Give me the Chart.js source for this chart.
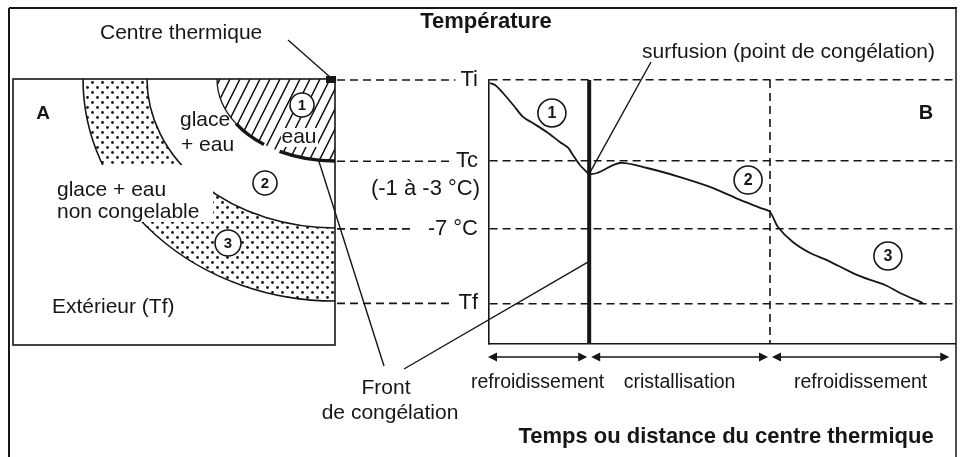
<!DOCTYPE html>
<html>
<head>
<meta charset="utf-8">
<script src="https://cdn.jsdelivr.net/npm/chart.js@4.4.0/dist/chart.umd.min.js"></script>
<style>
  html, body { margin: 0; background: #fff; }
  canvas { display: block; }
</style>
</head>
<body>
<canvas id="c" width="960" height="457"></canvas>
<script>
// courbe de congélation (temps en unités arbitraires 0..100, température en °C)
const temps = [0.2, 1.3, 3.0, 5.2, 7.3, 9.4, 12.4, 15.2, 17.0, 18.0, 19.5, 21.0, 21.5, 23.2, 28.1, 33.9, 41.0, 48.1, 53.9, 58.2, 60.3, 62.0, 65.2, 68.9, 72.5, 78.1, 81.8, 85.0, 88.2, 93.1];
const temperatures = [3.78, 3.63, 3.04, 2.15, 1.27, 0.82, 0.16, -0.58, -1.02, -1.54, -2.28, -2.80, -2.94, -2.87, -2.13, -2.50, -3.17, -3.98, -4.86, -5.45, -5.75, -6.86, -7.97, -8.78, -9.30, -10.26, -10.77, -11.14, -11.73, -12.47];

// repères de température
const tickValues = [4, -2, -7, -12.5];
const tickLabels = ['Ti', 'Tc', '-7 °C', 'Tf'];
const yMin = -15.5, yMax = 4;

// phases
const phaseBounds = [0, 21.5, 60.3, 99.2];
const phaseNames = ['refroidissement', 'cristallisation', 'refroidissement'];
const tSurfusion = 21.5;
const tFinCristal = 60.3;

// numéros des phases sur la courbe
const markT = [13.5, 55.6, 85.6];
const markTemp = [1.56, -3.39, -9.0];
const markLabels = ['1', '2', '3'];

const ink = '#161616';
const fam = '"Liberation Sans", Arial, Helvetica, sans-serif';
Chart.defaults.font.family = fam;
Chart.defaults.color = ink;

function line(ctx, x1, y1, x2, y2, w, dash) {
    ctx.save();
    ctx.lineWidth = w;
    ctx.strokeStyle = ink;
    ctx.setLineDash(dash || []);
    ctx.beginPath();
    ctx.moveTo(x1, y1);
    ctx.lineTo(x2, y2);
    ctx.stroke();
    ctx.restore();
}

function text(ctx, s, x, y, size, align, bold) {
    ctx.font = (bold ? 'bold ' : '') + size + 'px ' + fam;
    ctx.textAlign = align || 'left';
    ctx.textBaseline = 'middle';
    ctx.fillStyle = ink;
    ctx.fillText(s, x, y);
}

function circled(ctx, s, x, y, r) {
    ctx.save();
    ctx.beginPath();
    ctx.arc(x, y, r, 0, Math.PI * 2);
    ctx.fillStyle = '#fff';
    ctx.fill();
    ctx.lineWidth = 1.6;
    ctx.strokeStyle = ink;
    ctx.stroke();
    ctx.restore();
    text(ctx, s, x, y + 1, 15, 'center', true);
}

function arrowHead(ctx, x, y, dir) {
    ctx.beginPath();
    ctx.moveTo(x, y);
    ctx.lineTo(x - dir * 9, y - 4.5);
    ctx.lineTo(x - dir * 9, y + 4.5);
    ctx.closePath();
    ctx.fillStyle = ink;
    ctx.fill();
}

function dotPattern(ctx) {
    const pc = document.createElement('canvas');
    pc.width = 10; pc.height = 10;
    const p = pc.getContext('2d');
    p.fillStyle = ink;
    [[2.5, 2.5], [7.5, 7.5]].forEach(([x, y]) => {
        p.beginPath(); p.arc(x, y, 1.4, 0, Math.PI * 2); p.fill();
    });
    return ctx.createPattern(pc, 'repeat');
}

// schéma A : quart de produit vu depuis le centre thermique
function drawPanelA(ctx) {
    const L = 13, T = 79, R = 335, B = 345;
    const cx = R, cy = T, d = Math.PI / 180;

    // bande pointillée (eau non congelable)
    ctx.save();
    ctx.beginPath();
    ctx.rect(L, T, R - L, B - T);
    ctx.rect(L, 165, 200, 57);
    ctx.clip('evenodd');
    ctx.beginPath();
    ctx.ellipse(cx, cy, 252, 222, 0, Math.PI / 2, Math.PI);
    ctx.ellipse(cx, cy, 188, 149, 0, Math.PI, Math.PI / 2, true);
    ctx.closePath();
    ctx.fillStyle = dotPattern(ctx);
    ctx.fill();
    ctx.lineWidth = 1.6;
    ctx.strokeStyle = ink;
    ctx.beginPath(); ctx.ellipse(cx, cy, 252, 222, 0, Math.PI / 2, Math.PI); ctx.stroke();
    ctx.beginPath(); ctx.ellipse(cx, cy, 188, 149, 0, Math.PI / 2, Math.PI); ctx.stroke();
    ctx.restore();

    // zone hachurée (eau)
    ctx.save();
    ctx.beginPath();
    ctx.moveTo(cx, cy);
    ctx.ellipse(cx, cy, 118, 82, 0, Math.PI / 2, Math.PI);
    ctx.closePath();
    ctx.clip();
    ctx.lineWidth = 1.5;
    ctx.strokeStyle = ink;
    ctx.beginPath();
    for (let x0 = cx - 180; x0 < cx + 10; x0 += 10) {
        ctx.moveTo(x0, cy + 90);
        ctx.lineTo(x0 + 50, cy - 10);
    }
    ctx.stroke();
    ctx.restore();

    // front de congélation
    ctx.save();
    ctx.strokeStyle = ink;
    ctx.lineWidth = 3.5;
    ctx.beginPath(); ctx.ellipse(cx, cy, 118, 82, 0, 90 * d, 118 * d); ctx.stroke();
    ctx.beginPath(); ctx.ellipse(cx, cy, 118, 82, 0, 127 * d, 147 * d); ctx.stroke();
    ctx.lineWidth = 1.3;
    ctx.beginPath(); ctx.ellipse(cx, cy, 118, 82, 0, 147 * d, 180 * d); ctx.stroke();
    ctx.restore();

    // cadre
    ctx.save();
    ctx.lineWidth = 1.6;
    ctx.strokeStyle = ink;
    ctx.strokeRect(L, T, R - L, B - T);
    ctx.restore();

    // textes
    text(ctx, 'A', 43, 114, 19, 'center', true);
    text(ctx, 'glace', 180, 120, 21);
    text(ctx, '+ eau', 181, 145, 21);
    ctx.fillStyle = '#fff';
    ctx.fillRect(281, 128, 37, 19);
    text(ctx, 'eau', 299, 137, 21, 'center');
    text(ctx, 'glace + eau', 57, 190, 21);
    text(ctx, 'non congelable', 57, 212, 21);
    text(ctx, 'Extérieur (Tf)', 52, 307, 21);
    text(ctx, 'Centre thermique', 100, 33, 21);
    line(ctx, 288, 40, 330, 77, 1.4);
    ctx.fillStyle = ink;
    ctx.fillRect(326, 76, 10, 7);

    circled(ctx, '1', 302, 105, 12);
    circled(ctx, '2', 265, 183, 12);
    circled(ctx, '3', 228, 243, 13);

    // point du front utilisé par la légende
    return {x: cx + 118 * Math.cos(98 * d), y: cy + 82 * Math.sin(98 * d)};
}

const decor = {
    id: 'decor',
    afterDatasetsDraw(chart) {
        const ctx = chart.ctx;
        const meta = chart.getDatasetMeta(0);
        meta.data.forEach((pt, i) => text(ctx, markLabels[i], pt.x, pt.y + 1, 16, 'center', true));
    },
    afterDraw(chart) {
        const ctx = chart.ctx, xs = chart.scales.x, ys = chart.scales.y;
        ctx.save();

        // cadre extérieur
        line(ctx, 9, 8, 957, 8, 2);
        line(ctx, 9, 8, 9, 457, 2);
        line(ctx, 956, 8, 956, 457, 1.5);

        const front = drawPanelA(ctx);

        // pointillés entre A et les repères
        ctx.font = '22px ' + fam;
        tickValues.forEach((v, i) => {
            const y = ys.getPixelForValue(v);
            const w = ctx.measureText(tickLabels[i]).width;
            const end = xs.left - 11 - w - (i === 2 ? 16 : 5);
            line(ctx, 337, y, end, y, 1.6, [8, 5]);
        });
        text(ctx, '(-1 à -3 °C)', xs.left - 9, ys.getPixelForValue(tickValues[1]) + 28, 22, 'right');

        // titres
        text(ctx, 'Température', 486, 22, 22, 'center', true);
        text(ctx, 'Temps ou distance du centre thermique', 726, 437, 22, 'center', true);
        text(ctx, 'B', 926, 113, 20, 'center', true);

        // surfusion
        text(ctx, 'surfusion (point de congélation)', 642, 52, 21);
        const sx = xs.getPixelForValue(temps[12]), sy = ys.getPixelForValue(temperatures[12]);
        line(ctx, 651, 62, sx, sy, 1.4);

        // front de congélation
        text(ctx, 'Front', 386, 388, 21, 'center');
        text(ctx, 'de congélation', 390, 413, 21, 'center');
        line(ctx, 384, 366, front.x, front.y, 1.4);
        line(ctx, 404, 369, xs.getPixelForValue(tSurfusion), ys.getPixelForValue(-9.4), 1.4);

        // flèches des phases
        const ay = 357;
        phaseNames.forEach((name, i) => {
            const x1 = xs.getPixelForValue(phaseBounds[i]) + (i ? 2 : -1);
            const x2 = xs.getPixelForValue(phaseBounds[i + 1]) - 2;
            line(ctx, x1 + 4, ay, x2 - 4, ay, 1.5);
            arrowHead(ctx, x1, ay, -1);
            arrowHead(ctx, x2, ay, 1);
            text(ctx, name, (x1 + x2) / 2, 383, 19.5, 'center');
        });

        ctx.restore();
    }
};

new Chart(document.getElementById('c'), {
    type: 'line',
    data: {
        datasets: [
            {
                label: 'phases',
                data: markT.map((t, i) => ({x: t, y: markTemp[i]})),
                showLine: false,
                pointRadius: 14,
                pointHoverRadius: 14,
                pointBackgroundColor: '#fff',
                pointBorderColor: ink,
                pointBorderWidth: 1.6
            },
            {
                label: 'Température',
                data: temps.map((t, i) => ({x: t, y: temperatures[i]})),
                borderColor: ink,
                borderWidth: 1.8,
                pointRadius: 0,
                tension: 0.3,
                fill: false
            },
            {
                label: 'surfusion',
                data: [{x: tSurfusion, y: yMax}, {x: tSurfusion, y: yMin}],
                borderColor: ink,
                borderWidth: 4,
                pointRadius: 0
            },
            {
                label: 'fin de cristallisation',
                data: [{x: tFinCristal, y: yMax}, {x: tFinCristal, y: yMin}],
                borderColor: ink,
                borderWidth: 1.6,
                borderDash: [8, 5],
                pointRadius: 0
            }
        ]
    },
    options: {
        responsive: false,
        animation: false,
        events: [],
        layout: {autoPadding: false, padding: {left: 429, right: 5, top: 80, bottom: 113}},
        plugins: {
            legend: {display: false},
            tooltip: {enabled: false}
        },
        scales: {
            x: {
                type: 'linear',
                min: 0,
                max: 100,
                grid: {display: false},
                ticks: {display: false},
                border: {color: ink, width: 1.6},
                afterFit: s => { s.height = 0; }
            },
            y: {
                type: 'linear',
                min: yMin,
                max: yMax,
                afterBuildTicks: s => { s.ticks = tickValues.map(v => ({value: v})); },
                afterFit: s => { s.width = 60; },
                ticks: {
                    padding: 11,
                    color: ink,
                    font: {size: 22},
                    callback: v => tickLabels[tickValues.indexOf(v)] ?? ''
                },
                grid: {color: ink, lineWidth: 1.6, drawTicks: false},
                border: {color: ink, width: 1.6, dash: [8, 5]}
            }
        }
    },
    plugins: [decor]
});
</script>
</body>
</html>
